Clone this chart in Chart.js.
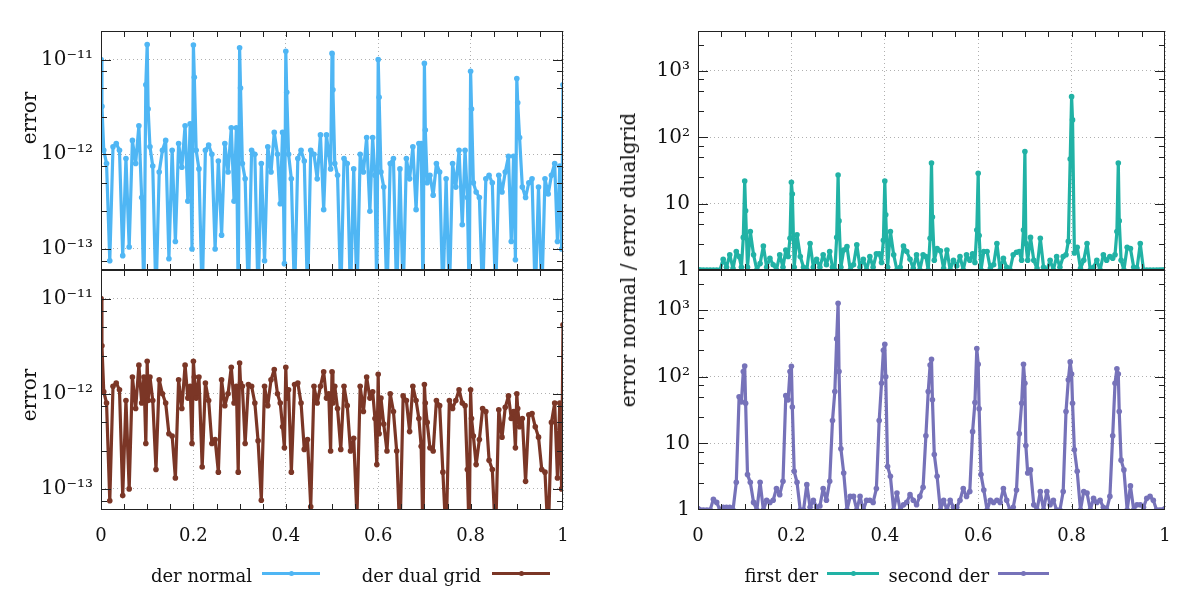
<!DOCTYPE html>
<html>
<head>
<meta charset="utf-8">
<title>error comparison</title>
<script src="https://cdn.jsdelivr.net/npm/chart.js@4.4.1/dist/chart.umd.min.js"></script>
<style>
  body { margin: 0; background: #fff; font-family: "DejaVu Serif", serif; color: #111; }
  #wrap { position: relative; width: 1200px; height: 600px; overflow: hidden; }
  canvas { position: absolute; }
  .ytitle { position: absolute; font-size: 20px; line-height: 24px; white-space: nowrap;
            transform: translate(-50%, -50%) rotate(-90deg); }
  .leg { position: absolute; top: 566px; font-size: 18px; line-height: 20px; white-space: nowrap; text-align: right; }
  .sw { position: absolute; top: 572px; height: 3px; }
  .sw i { position: absolute; left: 50%; top: 50%; width: 5px; height: 5px; margin: -2.5px 0 0 -2.5px; border-radius: 50%; background: inherit; }
</style>
</head>
<body>
<div id="wrap">
  <canvas id="tl" width="600" height="280" style="left:0;top:0"></canvas>
  <canvas id="bl" width="600" height="340" style="left:0;top:260px"></canvas>
  <canvas id="tr" width="600" height="280" style="left:600px;top:0"></canvas>
  <canvas id="br" width="600" height="340" style="left:600px;top:260px"></canvas>

  <div class="ytitle" style="left:29px;top:118px">error</div>
  <div class="ytitle" style="left:29px;top:395px">error</div>
  <div class="ytitle" style="left:628px;top:260px">error normal / error dualgrid</div>

  <div class="leg" style="right:948px">der normal</div>
  <div class="sw" style="left:262px;width:58px;background:#4fb6f4"><i></i></div>
  <div class="leg" style="right:719px">der dual grid</div>
  <div class="sw" style="left:492px;width:58px;background:#7b3626"><i></i></div>
  <div class="leg" style="right:382px">first der</div>
  <div class="sw" style="left:827px;width:52px;background:#21b2a5"><i></i></div>
  <div class="leg" style="right:211px">second der</div>
  <div class="sw" style="left:998px;width:51px;background:#7672b9"><i></i></div>
</div>
<script>
// grid points (denser just before / after every tenth)
const xs = [
  0, 0.002, 0.006, 0.012, 0.019, 0.026, 0.033, 0.040, 0.047, 0.054, 0.061, 0.068, 0.075, 0.082, 0.088, 0.093, 0.097,
  0.1, 0.102, 0.106, 0.112, 0.119, 0.126, 0.133, 0.140, 0.147, 0.154, 0.161, 0.168, 0.175, 0.182, 0.188, 0.193, 0.197,
  0.2, 0.202, 0.206, 0.212, 0.219, 0.226, 0.233, 0.240, 0.247, 0.254, 0.261, 0.268, 0.275, 0.282, 0.288, 0.293, 0.297,
  0.3, 0.302, 0.306, 0.312, 0.319, 0.326, 0.333, 0.340, 0.347, 0.354, 0.361, 0.368, 0.375, 0.382, 0.388, 0.393, 0.397,
  0.4, 0.402, 0.406, 0.412, 0.419, 0.426, 0.433, 0.440, 0.447, 0.454, 0.461, 0.468, 0.475, 0.482, 0.488, 0.493, 0.497,
  0.5, 0.502, 0.506, 0.512, 0.519, 0.526, 0.533, 0.540, 0.547, 0.554, 0.561, 0.568, 0.575, 0.582, 0.588, 0.593, 0.597,
  0.6, 0.602, 0.606, 0.612, 0.619, 0.626, 0.633, 0.640, 0.647, 0.654, 0.661, 0.668, 0.675, 0.682, 0.688, 0.693, 0.697,
  0.7, 0.702, 0.706, 0.712, 0.719, 0.726, 0.733, 0.740, 0.747, 0.754, 0.761, 0.768, 0.775, 0.782, 0.788, 0.793, 0.797,
  0.8, 0.802, 0.806, 0.812, 0.819, 0.826, 0.833, 0.840, 0.847, 0.854, 0.861, 0.868, 0.875, 0.882, 0.888, 0.893, 0.897,
  0.9, 0.902, 0.906, 0.912, 0.919, 0.926, 0.933, 0.940, 0.947, 0.954, 0.961, 0.968, 0.975, 0.982, 0.988, 0.993, 0.997,
  1
];

const derNormal = [
  1.0e-11, 3.2e-12, 1.1e-12, 8.0e-13, 7.5e-14, 1.2e-12, 1.3e-12, 1.1e-12, 8.5e-14, 9.0e-13, 1.05e-13, 1.4e-12, 8.0e-13, 2.0e-12, 3.5e-13, 3.0e-14, 5.4e-12,
  1.44e-11, 3.0e-12, 1.2e-12, 7.5e-13, 3.0e-14, 6.5e-13, 1.1e-12, 1.4e-12, 7.9e-14, 1.1e-12, 1.2e-13, 1.3e-12, 7.3e-13, 2.0e-12, 3.2e-13, 2.1e-12, 1.0e-13,
  1.42e-11, 6.5e-12, 1.1e-12, 7.0e-13, 3.0e-14, 1.1e-12, 1.25e-12, 1.0e-12, 1.0e-13, 8.5e-13, 1.4e-13, 1.3e-12, 6.5e-13, 1.9e-12, 3.2e-13, 1.9e-12, 3.0e-14,
  1.33e-11, 5.0e-12, 8.0e-13, 5.5e-13, 3.0e-14, 1.1e-12, 1.0e-12, 3.0e-14, 8.0e-13, 7.5e-14, 1.2e-12, 6.5e-13, 1.7e-12, 1.0e-12, 3.0e-13, 1.7e-12, 7.0e-14,
  1.22e-11, 4.5e-12, 1.0e-12, 5.5e-13, 3.0e-14, 9.0e-13, 1.1e-12, 8.5e-13, 3.0e-14, 1.1e-12, 1.0e-12, 5.5e-13, 1.6e-12, 2.6e-13, 1.6e-12, 1.0e-12, 7.0e-13,
  1.16e-11, 4.8e-12, 8.0e-13, 6.0e-13, 3.0e-14, 9.0e-13, 8.0e-13, 3.0e-14, 7.0e-13, 3.0e-14, 1.0e-12, 6.5e-13, 1.5e-12, 2.5e-13, 1.5e-12, 6.0e-13, 3.0e-14,
  1.0e-11, 4.0e-12, 6.5e-13, 4.5e-13, 3.0e-14, 8.0e-13, 9.0e-13, 3.0e-14, 7.0e-13, 3.0e-14, 9.0e-13, 5.5e-13, 1.2e-12, 2.6e-13, 1.3e-12, 1.3e-12, 3.0e-14,
  9.1e-12, 1.8e-12, 5.0e-13, 6.0e-13, 3.7e-13, 8.0e-13, 6.5e-13, 3.0e-14, 5.5e-13, 3.0e-14, 8.0e-13, 4.5e-13, 1.1e-12, 1.8e-13, 1.1e-12, 3.5e-13, 3.0e-14,
  7.5e-12, 3.0e-12, 5.0e-13, 4.0e-13, 3.5e-13, 3.0e-14, 5.5e-13, 6.0e-13, 5.0e-13, 3.0e-14, 6.0e-13, 4.0e-13, 6.5e-13, 9.5e-13, 1.2e-13, 9.5e-13, 7.7e-14,
  6.3e-12, 3.5e-12, 1.5e-12, 4.5e-13, 3.5e-13, 5.0e-13, 5.5e-13, 3.0e-14, 4.5e-13, 3.0e-14, 5.5e-13, 3.8e-13, 6.0e-13, 8.0e-13, 1.2e-13, 7.5e-13, 1.0e-13,
  5.4e-12
];

const derDual = [
  1.0e-11, 3.2e-12, 1.05e-12, 8.0e-13, 7.5e-14, 1.2e-12, 1.3e-12, 1.1e-12, 8.5e-14, 8.5e-13, 1.0e-13, 1.5e-12, 7.0e-13, 2.0e-12, 8.0e-13, 1.5e-12, 3.0e-13,
  2.2e-12, 8.5e-13, 1.5e-12, 8.5e-13, 1.6e-13, 1.4e-12, 1.0e-12, 8.0e-13, 3.8e-13, 3.6e-13, 1.3e-13, 1.4e-12, 7.0e-13, 2.0e-12, 9.0e-13, 1.2e-12, 3.0e-13,
  2.2e-12, 1.5e-12, 9.0e-13, 1.5e-12, 1.7e-13, 1.3e-12, 8.5e-13, 3.0e-13, 3.3e-13, 1.5e-13, 1.4e-12, 7.5e-13, 1.0e-12, 1.9e-12, 8.0e-13, 1.2e-12, 1.5e-13,
  2.1e-12, 1.3e-12, 1.2e-12, 3.0e-13, 1.25e-12, 1.2e-12, 8.0e-13, 3.2e-13, 7.6e-14, 1.2e-12, 7.5e-13, 1.4e-12, 1.8e-12, 1.0e-12, 8.0e-13, 4.5e-13, 2.7e-13,
  1.9e-12, 9.0e-13, 1.1e-12, 1.5e-13, 1.25e-12, 1.3e-12, 8.0e-13, 2.6e-13, 3.3e-13, 6.5e-14, 1.2e-12, 8.0e-13, 1.2e-12, 1.7e-12, 9.0e-13, 1.0e-12, 2.5e-13,
  1.7e-12, 8.0e-13, 1.2e-12, 7.0e-13, 2.6e-13, 1.2e-12, 7.5e-13, 2.5e-13, 3.4e-13, 5.0e-14, 1.2e-12, 6.5e-13, 1.5e-12, 9.0e-13, 1.05e-12, 5.5e-13, 1.8e-13,
  1.6e-12, 3.8e-13, 9.0e-13, 4.8e-13, 2.5e-13, 1.0e-12, 6.5e-13, 2.5e-13, 3.0e-14, 9.5e-13, 8.5e-13, 4.0e-13, 1.2e-12, 8.5e-13, 5.5e-13, 2.8e-13, 3.0e-14,
  1.25e-12, 8.0e-13, 5.0e-13, 2.7e-13, 2.5e-13, 8.5e-13, 7.5e-13, 1.5e-13, 3.0e-14, 8.5e-13, 7.0e-13, 8.5e-13, 1.1e-12, 8.0e-13, 7.5e-13, 1.6e-13, 3.0e-14,
  1.1e-12, 5.5e-13, 3.6e-13, 1.8e-13, 3.3e-13, 7.0e-13, 6.5e-13, 2.0e-13, 1.6e-13, 3.0e-14, 6.8e-13, 3.5e-13, 7.2e-13, 9.5e-13, 5.5e-13, 6.5e-13, 2.7e-13,
  1.0e-12, 7.0e-13, 4.5e-13, 5.5e-13, 1.2e-13, 6.0e-13, 6.2e-13, 4.5e-13, 3.5e-13, 1.6e-13, 1.5e-13, 3.0e-14, 5.0e-13, 8.0e-13, 1.3e-13, 8.0e-13, 1.0e-13,
  5.3e-12
];

const firstDer = [
  1, 1, 1, 1, 1, 1, 1, 1, 1, 1.45, 1.1, 1.7, 1.05, 1.9, 1.6, 1.1, 3.1,
  22, 7.8, 1.1, 3.8, 1.7, 1.0, 1.25, 2.3, 1.1, 1.5, 1.2, 1.0, 1.7, 1.1, 2.0, 1.6, 3.0,
  21, 14, 1.1, 3.4, 1.6, 1.1, 1.0, 2.5, 1.1, 1.45, 1.1, 1.7, 1.2, 1.9, 1.1, 1.0, 3.1,
  27, 5.5, 1.1, 2.0, 2.25, 1.0, 1.2, 2.4, 1.1, 1.45, 1.0, 1.6, 1.1, 1.75, 1.75, 1.3, 2.8,
  22, 6.8, 1.1, 3.8, 1.7, 1.0, 1.1, 2.3, 1.9, 1.45, 1.05, 1.7, 1.0, 1.7, 1.6, 1.0, 3.0,
  41, 6.3, 1.4, 2.1, 1.95, 1.05, 2.0, 1.0, 1.4, 1.15, 1.6, 1.0, 1.7, 1.4, 1.75, 1.3, 4.0,
  28.6, 3.3, 1.0, 1.9, 1.9, 1.05, 1.2, 2.5, 1.0, 1.5, 1.1, 1.0, 1.7, 1.85, 1.9, 1.4, 4.0,
  61, 2.5, 1.4, 3.1, 1.4, 1.05, 3.0, 1.1, 1.0, 1.4, 1.0, 1.6, 1.1, 1.6, 1.7, 2.7, 47,
  410, 183, 1.8, 2.2, 1.05, 1.4, 2.5, 1.0, 1.1, 1.4, 1.0, 1.7, 1.4, 1.6, 1.5, 1.7, 3.8,
  41, 5.5, 1.4, 1.0, 2.2, 2.1, 1.1, 1.05, 2.5, 1.0, 1.0, 1, 1, 1, 1, 1, 1,
  1
];

const secondDer = [
  1.05, 1.0, 1.0, 1.0, 1.0, 1.0, 1.45, 1.3, 1.0, 1.1, 1.1, 1.1, 1.0, 2.6, 50, 42, 120,
  145, 40, 3.4, 2.6, 1.3, 1.0, 2.6, 1.0, 1.4, 1.3, 1.4, 2.1, 1.7, 2.7, 52, 45, 120,
  144, 35, 3.8, 2.6, 1.0, 1.0, 2.4, 1.1, 1.4, 1.1, 1.15, 2.1, 1.4, 2.7, 22, 60, 370,
  1270, 120, 8.3, 3.6, 1.0, 1.6, 1.6, 1.0, 1.6, 1.0, 1.4, 1.4, 1.3, 2.1, 22, 80, 250,
  308, 100, 4.5, 3.2, 1.0, 1.8, 1.0, 1.2, 1.3, 1.7, 1.4, 1.2, 1.6, 2.2, 13, 60, 150,
  183, 45, 6.8, 3.2, 1.0, 1.4, 1.0, 1.4, 1.1, 1.1, 1.4, 2.1, 1.6, 1.9, 15, 41, 265,
  154, 33, 3.4, 2.0, 1.0, 1.4, 1.3, 1.4, 1.3, 2.1, 1.4, 1.0, 1.1, 2.0, 14, 40, 154,
  80, 9.3, 3.6, 4.0, 1.2, 1.0, 1.9, 1.0, 1.9, 1.2, 1.4, 1.0, 1.0, 1.9, 30, 90, 167,
  110, 40, 8.0, 3.8, 1.0, 1.9, 1.8, 1.0, 1.5, 1.3, 1.4, 1.1, 1.0, 1.6, 13, 80, 132,
  110, 30, 5.6, 4.0, 1.0, 2.3, 1.0, 1.2, 1.2, 1.1, 1.5, 1.6, 1.4, 1.0, 1.0, 1.0, 1.0,
  1.05
];

// axis ticks
const xTicks = [0, 0.2, 0.4, 0.6, 0.8, 1];
const xTickLabels = ['0', '0.2', '0.4', '0.6', '0.8', '1'];
const xMinorTicks = [0.05, 0.1, 0.15, 0.2, 0.25, 0.3, 0.35, 0.4, 0.45, 0.5, 0.55, 0.6, 0.65, 0.7, 0.75, 0.8, 0.85, 0.9, 0.95];
const errTicks = [1e-13, 1e-12, 1e-11];
const errTickLabels = ['10\u207B\u00B9\u00B3', '10\u207B\u00B9\u00B2', '10\u207B\u00B9\u00B9'];
const ratioTicks = [1, 10, 100, 1000];
const ratioTickLabels = ['1', '10', '10\u00B2', '10\u00B3'];
const yMinorSteps = [2.5, 5, 7.5];

const FONT = '"DejaVu Serif", serif';

// frame + inward tick marks, drawn on top of the data
const axisFrame = {
    id: 'axisFrame',
    afterDatasetsDraw(chart) {
        const { ctx, chartArea: a, scales: { x, y } } = chart;
        ctx.save();
        ctx.lineWidth = 1;
        ctx.strokeStyle = '#222';
        ctx.beginPath();
        xMinorTicks.forEach(v => {
            const px = Math.round(x.getPixelForValue(v)) + 0.5;
            ctx.moveTo(px, a.top); ctx.lineTo(px, a.top + 6);
            ctx.moveTo(px, a.bottom); ctx.lineTo(px, a.bottom - 6);
        });
        const lo = Math.floor(Math.log10(y.min)), hi = Math.ceil(Math.log10(y.max));
        for (let e = lo; e <= hi; e++) {
            const dec = Math.pow(10, e);
            [[1, 10]].concat(yMinorSteps.map(m => [m, 6])).forEach(([m, len]) => {
                const v = m * dec;
                if (v <= y.min * 1.0001 || v >= y.max) return;
                const py = Math.round(y.getPixelForValue(v)) + 0.5;
                ctx.moveTo(a.left, py); ctx.lineTo(a.left + len, py);
                ctx.moveTo(a.right, py); ctx.lineTo(a.right - len, py);
            });
        }
        ctx.stroke();
        ctx.strokeRect(a.left + 0.5, a.top + 0.5, a.right - a.left - 1, a.bottom - a.top - 1);
        ctx.restore();
    }
};

const series = (ys, color) => ({
    data: xs.map((x, i) => ({ x: x, y: ys[i] })),
    borderColor: color,
    backgroundColor: color,
    pointBackgroundColor: color,
    borderWidth: 3.2,
    borderJoinStyle: 'round',
    borderCapStyle: 'round',
    pointRadius: 2.8,
    pointBorderWidth: 0,
    tension: 0
});

const newChart = (id, ds, o) => {
    return new Chart(document.getElementById(id), {
        type: 'line',
        data: { datasets: [ds] },
        options: {
            animation: false,
            responsive: false,
            layout: { padding: o.padding },
            plugins: { legend: { display: false }, tooltip: { enabled: false } },
            scales: {
                x: {
                    type: 'linear', min: 0, max: 1,
                    afterBuildTicks: s => { s.ticks = xTicks.map(v => ({ value: v })); },
                    afterFit: s => { s.height = o.showX ? 40 : 0; s.paddingLeft = 0; s.paddingRight = 0; },
                    ticks: {
                        display: o.showX, autoSkip: false, maxRotation: 0, padding: 16,
                        color: '#111', font: { family: FONT, size: 18 },
                        callback: (v, i) => xTickLabels[i]
                    },
                    grid: { drawTicks: false, color: '#b0b0b0', lineWidth: 1 },
                    border: { display: false, dash: [1, 3] }
                },
                y: {
                    type: 'logarithmic', min: o.min, max: o.max,
                    afterBuildTicks: s => { s.ticks = o.ticks.map(v => ({ value: v })); },
                    afterFit: s => { s.width = o.yWidth; s.paddingTop = 0; s.paddingBottom = 0; },
                    ticks: {
                        padding: 8, color: '#111', font: { family: FONT, size: 20 },
                        callback: (v, i) => o.labels[i]
                    },
                    grid: {
                        drawTicks: false, lineWidth: 1,
                        color: c => (c.tick && c.tick.value > o.min) ? '#b0b0b0' : 'rgba(0,0,0,0)'
                    },
                    border: { display: false, dash: [1, 3] }
                }
            }
        },
        plugins: [axisFrame]
    });
};

const errAxis = { min: 6e-14, max: 2e-11, ticks: errTicks, labels: errTickLabels, yWidth: 101 };
const ratioAxis = { min: 1, max: 4000, ticks: ratioTicks, labels: ratioTickLabels, yWidth: 98 };

newChart('tl', series(derNormal, '#4fb6f4'),
    Object.assign({ padding: { top: 31, right: 37, bottom: 10, left: 0 }, showX: false }, errAxis));
newChart('bl', series(derDual, '#7b3626'),
    Object.assign({ padding: { top: 10, right: 37, bottom: 50, left: 0 }, showX: true }, errAxis));
newChart('tr', series(firstDer, '#21b2a5'),
    Object.assign({ padding: { top: 31, right: 35, bottom: 10, left: 0 }, showX: false }, ratioAxis));
newChart('br', series(secondDer, '#7672b9'),
    Object.assign({ padding: { top: 10, right: 35, bottom: 50, left: 0 }, showX: true }, ratioAxis));
</script>
</body>
</html>
